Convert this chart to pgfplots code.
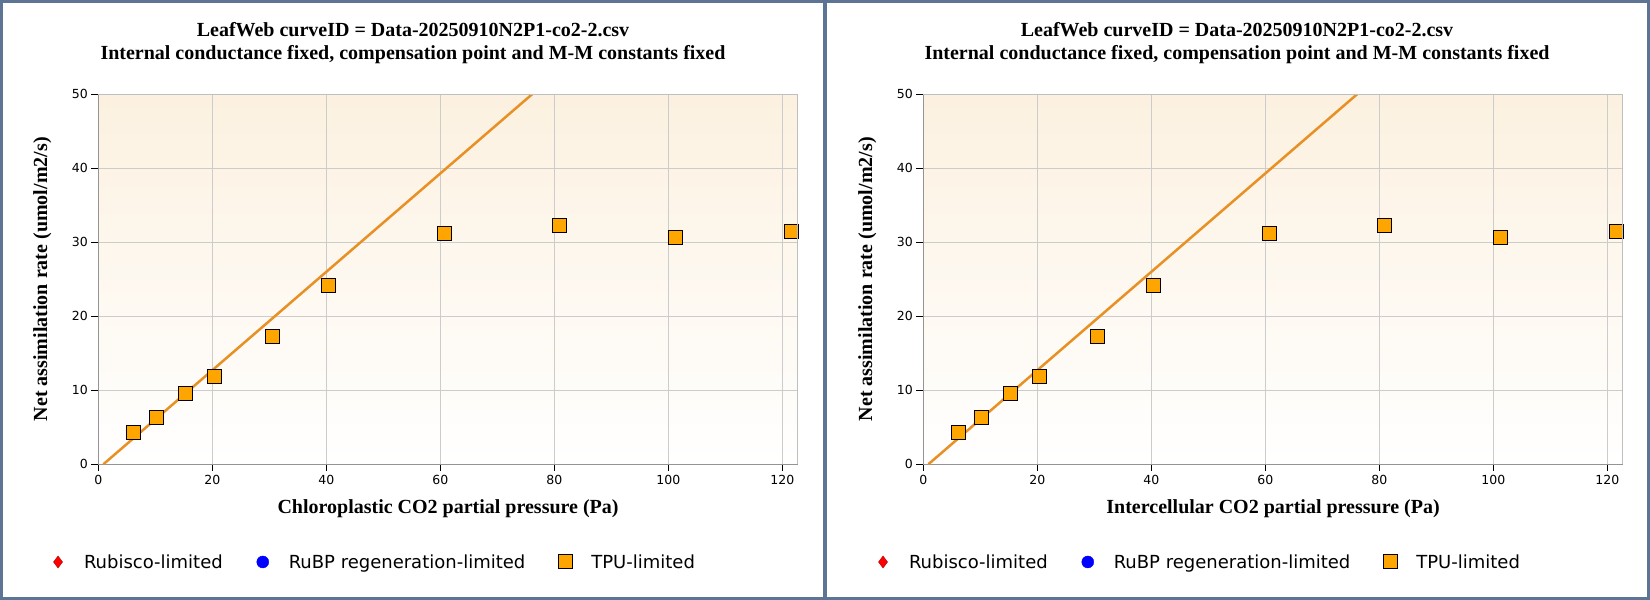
\documentclass[border=0pt]{standalone}
\usepackage{fontspec}
\setmainfont{Liberation Serif}
\newfontfamily\dejavu{DejaVu Sans}
\usepackage{pgfplots}
\usepackage{pgfplotstable}
\pgfplotsset{compat=1.18}
\definecolor{frameblue}{RGB}{94,116,148}
\definecolor{bgtop}{RGB}{252,241,224}
\definecolor{lineor}{RGB}{232,144,36}
\definecolor{tpu}{RGB}{255,165,0}
\definecolor{gridc}{RGB}{204,204,204}

\pgfplotstableread{
x y
6.1 4.27
10.2 6.35
15.3 9.6
20.35 11.9
30.5 17.3
40.35 24.2
60.7 31.2
80.9 32.3
101.3 30.7
121.6 31.5
}\tpudata

\pgfplotstableread{
x y
0.9 0
76.1 50
}\fitline

\pgfplotsset{
  every axis title shift=0pt,
  leafstyle/.style={
    scale only axis, width=699.5pt, height=370pt,
    xmin=0, xmax=122.7, ymin=0, ymax=50,
    xtick={0,20,...,120}, ytick={0,10,...,50},
    grid=major, major grid style={gridc, line width=1pt},
    tick align=outside, tick pos=left, major tick length=7pt,
    tick style={black, line width=1pt},
    axis line style={draw=black!42, line width=1pt},
    axis background/.style={shade, top color=bgtop, bottom color=white},
    /pgf/number format/assume math mode=true,
    ticklabel style={font=\dejavu\fontsize{12.5}{14}\selectfont},
    title style={anchor=center, align=center, font=\fontsize{20}{23}\selectfont\bfseries},
    xlabel style={at={(axis description cs:0.5,-0.1195)}, anchor=center, font=\fontsize{20}{22}\selectfont\bfseries},
    ylabel style={at={(axis description cs:-0.0799,0.5)}, anchor=center, font=\fontsize{20}{22}\selectfont\bfseries},
    legend columns=3,
    legend style={at={(axis description cs:-0.0676,-0.2643)}, anchor=west, draw=none, fill=none,
      inner sep=0pt, outer sep=0pt, font=\dejavu\fontsize{18}{22}\selectfont,
      /tikz/every odd column/.append style={column sep=19pt},
      /tikz/every even column/.append style={column sep=33pt},
      nodes={inner sep=0pt}},
    legend image code/.code={\path[draw=none, fill=none] (-7pt,-7pt) rectangle (7pt,7pt); \draw[#1, mark repeat=1] plot coordinates {(0pt,0pt)};},
    after end axis/.code={\draw[black!25, line width=1pt] (rel axis cs:0,1) -- (rel axis cs:1,1) -- (rel axis cs:1,0);},
  }
}

\begin{document}
\begin{tikzpicture}
\fill[frameblue] (0pt,0pt) rectangle (1650pt,600pt);
\fill[white] (3pt,3pt) rectangle (823pt,597pt);
\fill[white] (827pt,3pt) rectangle (1647pt,597pt);

\begin{axis}[leafstyle, at={(98.3pt,135.8pt)}, anchor=south west,
  title style={at={(axis description cs:0.4499,1.1378)}},
  title={LeafWeb curveID = Data-20250910N2P1-co2-2.csv\\Internal conductance fixed, compensation point and M-M constants fixed},
  xlabel={Chloroplastic CO2 partial pressure (Pa)},
  ylabel={Net assimilation rate (umol/m2/s)}]
\addlegendimage{only marks, mark=diamond*, mark size=6pt, draw=red!65!black, fill=red}
\addlegendentry{Rubisco-limited}
\addlegendimage{only marks, mark=*, mark size=6pt, draw=blue, fill=blue}
\addlegendentry{RuBP regeneration-limited}
\addplot[no marks, lineor, line width=2.5pt, forget plot] table[x=x,y=y] {\fitline};
\addplot[only marks, mark=square*, mark size=7pt, mark options={draw=black, fill=tpu, line width=1pt}] table[x=x,y=y] {\tpudata};
\addlegendentry{TPU-limited}
\end{axis}

\begin{axis}[leafstyle, at={(923.3pt,135.8pt)}, anchor=south west,
  title style={at={(axis description cs:0.4485,1.1378)}},
  title={LeafWeb curveID = Data-20250910N2P1-co2-2.csv\\Internal conductance fixed, compensation point and M-M constants fixed},
  xlabel={Intercellular CO2 partial pressure (Pa)},
  ylabel={Net assimilation rate (umol/m2/s)}]
\addlegendimage{only marks, mark=diamond*, mark size=6pt, draw=red!65!black, fill=red}
\addlegendentry{Rubisco-limited}
\addlegendimage{only marks, mark=*, mark size=6pt, draw=blue, fill=blue}
\addlegendentry{RuBP regeneration-limited}
\addplot[no marks, lineor, line width=2.5pt, forget plot] table[x=x,y=y] {\fitline};
\addplot[only marks, mark=square*, mark size=7pt, mark options={draw=black, fill=tpu, line width=1pt}] table[x=x,y=y] {\tpudata};
\addlegendentry{TPU-limited}
\end{axis}
\pgfresetboundingbox
\useasboundingbox (0pt,0pt) rectangle (1650pt,600pt);
\end{tikzpicture}
\end{document}
